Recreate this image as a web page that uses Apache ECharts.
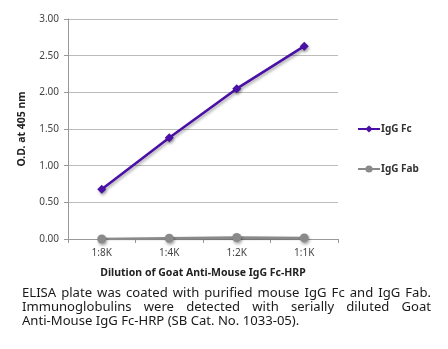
<!DOCTYPE html>
<html>
<head>
<meta charset="utf-8">
<script src="https://cdn.jsdelivr.net/npm/echarts@6/dist/echarts.min.js"></script>
<style>
html,body{margin:0;padding:0;background:#fff;}
#wrap{position:relative;width:448px;height:349px;}
#chart{position:absolute;left:0;top:0;width:448px;height:349px;}
.cap{position:absolute;left:22px;width:409px;font-family:"Noto Sans",sans-serif;font-size:13.1px;color:#1a1a1a;white-space:nowrap;line-height:14px;}
.j{text-align:justify;text-align-last:justify;white-space:normal;}
</style>
</head>
<body>
<div id="wrap">
<div id="chart"></div>
<div class="cap j" id="l1" style="top:285px;">ELISA plate was coated with purified mouse IgG Fc and IgG Fab.</div>
<div class="cap j" id="l2" style="top:299px;">Immunoglobulins were detected with serially diluted Goat</div>
<div class="cap" id="l3" style="top:313px;">Anti-Mouse IgG Fc-HRP (SB Cat. No. 1033-05).</div>
</div>
<script>
var categories = ['1:8K', '1:4K', '1:2K', '1:1K'];
var igGFc = [0.68, 1.38, 2.05, 2.63];
var igGFab = [0.00, 0.01, 0.02, 0.015];
var yTicks = { min: 0, max: 3, interval: 0.5 };

var chart = echarts.init(document.getElementById('chart'));
var shadow = { shadowColor: 'rgba(0,0,0,0.35)', shadowBlur: 3, shadowOffsetX: 1, shadowOffsetY: 2 };
chart.setOption({
  animation: false,
  textStyle: { fontFamily: 'Noto Sans' },
  grid: { left: 68, right: 110, top: 19, bottom: 110 },
  legend: {
    orient: 'vertical', left: 352, top: 119, itemWidth: 22, itemHeight: 9, itemGap: 30,
    textStyle: { fontWeight: 'bold', fontSize: 10, color: '#333', padding: [0, 0, 0, -4] },
    data: ['IgG Fc', 'IgG Fab']
  },
  xAxis: {
    type: 'category', data: categories, boundaryGap: true,
    name: 'Dilution of Goat Anti-Mouse IgG Fc-HRP', nameLocation: 'middle', nameGap: 29,
    nameTextStyle: { fontWeight: 'bold', fontSize: 10.5, color: '#222' },
    axisLine: { lineStyle: { color: '#999' } },
    axisTick: { show: true, length: 4, lineStyle: { color: '#999' } },
    axisLabel: { fontSize: 10, color: '#444', margin: 9 }
  },
  yAxis: {
    type: 'value', min: yTicks.min, max: yTicks.max, interval: yTicks.interval,
    name: 'O.D. at 405 nm', nameLocation: 'middle', nameGap: 40,
    nameTextStyle: { fontWeight: 'bold', fontSize: 10.5, color: '#222' },
    axisLine: { show: true, lineStyle: { color: '#999' } },
    axisTick: { show: true, length: 4, lineStyle: { color: '#999' } },
    axisLabel: { fontSize: 10, color: '#444', margin: 9, formatter: function (v) { return v.toFixed(2); } },
    splitLine: { lineStyle: { color: '#bbb' } }
  },
  series: [
    {
      name: 'IgG Fc', type: 'line', data: igGFc, symbol: 'diamond', symbolSize: 9,
      itemStyle: Object.assign({ color: '#4a0fa6' }, shadow),
      lineStyle: Object.assign({ color: '#4a0fa6', width: 2.5 }, shadow)
    },
    {
      name: 'IgG Fab', type: 'line', data: igGFab, symbol: 'circle', symbolSize: 9,
      itemStyle: Object.assign({ color: '#8a8a8a' }, shadow),
      lineStyle: Object.assign({ color: '#8a8a8a', width: 2.5 }, shadow)
    }
  ]
});
</script>
</body>
</html>
